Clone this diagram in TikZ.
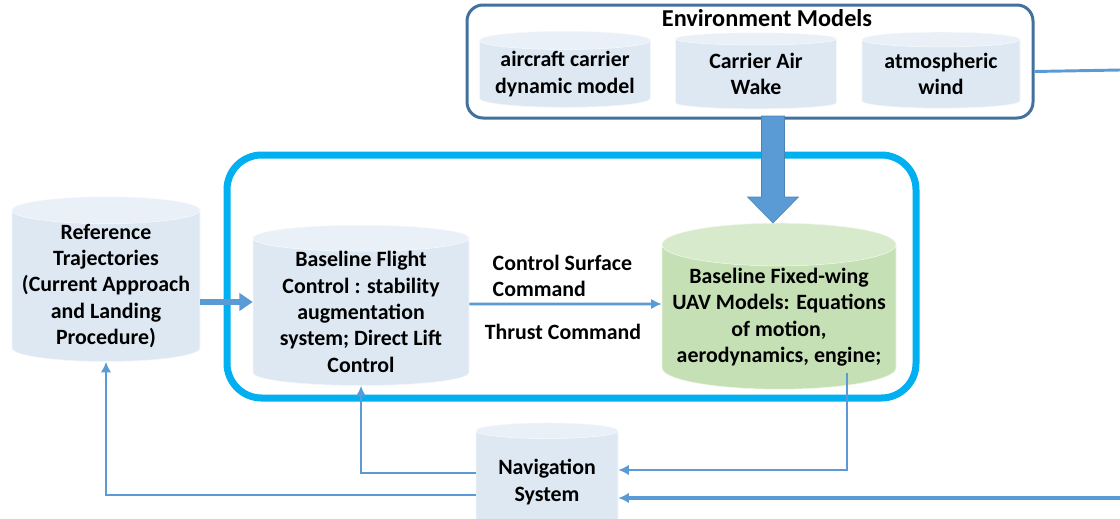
\documentclass[tikz,border=0pt]{standalone}
\usepackage{fontspec}
\setmainfont{Carlito}
\usetikzlibrary{shapes.geometric,arrows.meta,calc}
\definecolor{cylblue}{HTML}{DDE8F3}
\definecolor{cyltop}{HTML}{EAF0F8}
\definecolor{cylgreen}{HTML}{C5E0B4}
\definecolor{cylgreentop}{HTML}{D7EACB}
\definecolor{linkblue}{HTML}{5B9BD5}
\definecolor{loopcyan}{HTML}{00B0F0}
\definecolor{envblue}{HTML}{41719C}
\tikzset{drum/.style={cylinder,shape border rotate=90,aspect=0.16,draw=white!70!cylblue,thin,cylinder uses custom fill,cylinder body fill=cylblue,cylinder end fill=cyltop,align=center,inner sep=0pt}}
\tikzset{greendrum/.style={drum,aspect=0.2,draw=white!70!cylgreen,cylinder body fill=cylgreen,cylinder end fill=cylgreentop}}
\tikzset{link/.style={draw=linkblue,line width=2.2pt,-{Latex[length=8pt,width=8pt]}}}
\tikzset{fatlink/.style={draw=linkblue,line width=4.5pt,-{Triangle[length=10pt,width=13pt]}}}

\begin{document}
\begin{tikzpicture}[x=0.75pt,y=-0.75pt,every node/.style={font=\bfseries\fontsize{16.4}{19.8}\selectfont}]
    \useasboundingbox (0,0) rectangle (1120,518);
    % frames
    \node[draw=envblue,line width=2.25pt,rounded corners=12pt,minimum width=424.5pt,minimum height=84.75pt] (env) at (750,61.5) {};
    \node[draw=loopcyan,line width=5.25pt,rounded corners=26pt,minimum width=516.75pt,minimum height=182.25pt] (loop) at (571.5,276.5) {};
    \node[font=\bfseries\fontsize{18.2}{20}\selectfont] (envtitle) at (767,18) {Environment Models};
    % environment models
    \node[drum,aspect=0.13,minimum width=128.25pt,minimum height=57pt] (carrier) at (565,74) {aircraft carrier\\dynamic model};
    \node[drum,aspect=0.13,minimum width=120.75pt,minimum height=57pt] (wake) at (756,74) {Carrier Air\\Wake};
    \node[drum,aspect=0.13,minimum width=118.5pt,minimum height=57pt] (wind) at (941,74) {atmospheric\\wind};
    % main blocks
    \node[drum,minimum width=141pt,minimum height=112.5pt] (ref) at (106,286) {Reference\\Trajectories\\(Current Approach\\and Landing\\Procedure)};
    \node[drum,minimum width=162pt,minimum height=114pt] (bfc) at (361,312) {Baseline Flight\\Control : stability\\augmentation\\system; Direct Lift\\Control};
    \node[greendrum,minimum width=175.5pt,minimum height=124.5pt] (grn) at (779,317) {Baseline Fixed-wing\\UAV Models: Equations\\of motion,\\aerodynamics, engine;};
    \node[drum,minimum width=106.5pt,minimum height=82.5pt] (nav) at (547,482) {Navigation\\System};
    % command labels
    \node[anchor=west,align=left] (lblcs) at (488,276) {Control Surface\\Command};
    \node (lbltc) at (563,332) {Thrust Command};
    % free ends at the right border
    \coordinate (feed) at ($(bfc.west)+(0,-10)$);
    \coordinate (edgeT) at (1120,70);
    \coordinate (edgeB) at (1120,498);
    % connectors
    \draw[fatlink] (ref.east |- feed) -- (feed);
    \draw[link] ($(bfc.east)+(0,-8)$) -- ($(grn.west)+(0,-13)$);
    \draw[link] ($(grn.south)+(68,-16)$) |- ($(nav.east)+(0,-12)$);
    \draw[link] ($(nav.west)+(0,-9)$) -| (bfc.south);
    \draw[link] ($(nav.west)+(0,13)$) -| (ref.south);
    \draw[link,line width=3pt] (edgeB) -- (nav.east |- edgeB);
    \draw[linkblue,line width=2.2pt] ($(env.east)+(0,10)$) -- (edgeT);
    % wind field into the UAV model
    \coordinate (drop) at (773,116);
    \filldraw[fill=linkblue,draw=linkblue!85!black,thin] ($(drop)+(-11.5,0)$) -- ++(0,81) -- ++(-14,0) -- (drop |- grn.north) -- ($(drop)+(25.5,81)$) -- ++(-14,0) -- ($(drop)+(11.5,0)$) -- cycle;
\end{tikzpicture}
\end{document}
